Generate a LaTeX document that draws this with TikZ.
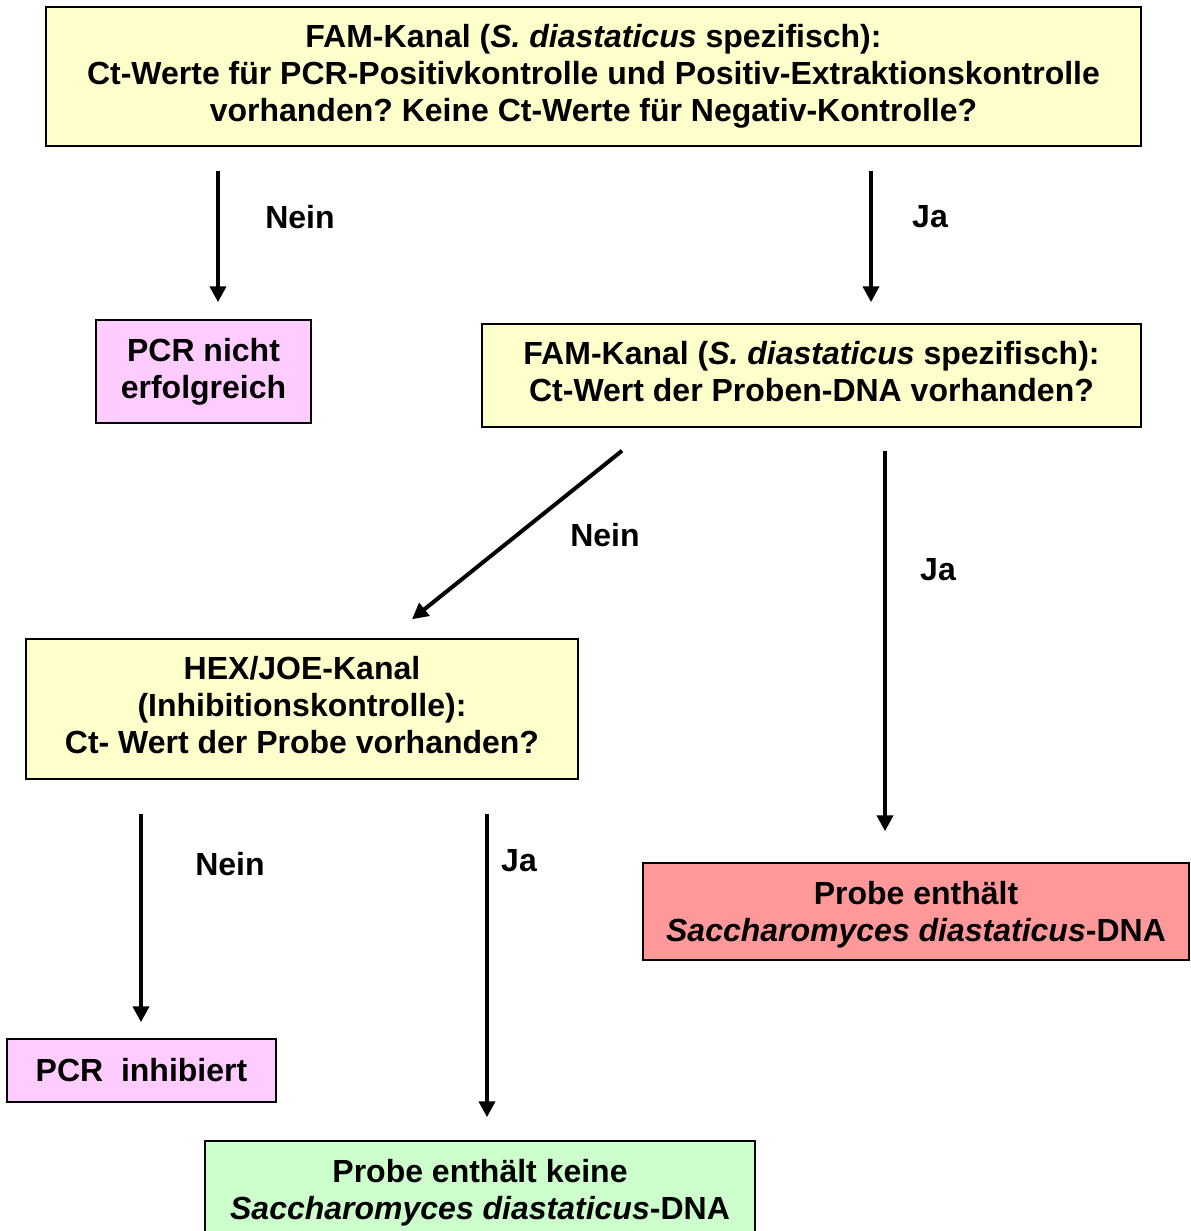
\documentclass[tikz,border=0pt]{standalone}
\usepackage{fontspec}
\setmainfont{Liberation Sans}
\usepackage{xcolor}
\usetikzlibrary{arrows.meta,calc}
\frenchspacing

\definecolor{boxyellow}{HTML}{FFFFCC}
\definecolor{boxpink}{HTML}{FFCCFF}
\definecolor{boxred}{HTML}{FF9999}
\definecolor{boxgreen}{HTML}{CCFFCC}

\begin{document}
\begin{tikzpicture}[x=0.5pt,y=-0.5pt,
	box/.style={draw,line width=0.75pt,align=center,inner sep=0pt,
		font=\fontsize{16}{18.4}\selectfont\bfseries},
	lbl/.style={font=\fontsize{16}{18}\selectfont\bfseries},
	arr/.style={line width=2pt,-{Triangle[length=8pt,width=8pt]}}]
	\useasboundingbox (0,0) rectangle (1190,1231);

	\node[box,fill=boxyellow,minimum width=547.5pt,minimum height=69.5pt] (top) at (593.5,76.5)
		{FAM-Kanal (\textit{S. diastaticus} spezifisch):\\
		 Ct-Werte für PCR-Positivkontrolle und Positiv-Extraktionskontrolle\\
		 vorhanden? Keine Ct-Werte für Negativ-Kontrolle?};
	\node[box,fill=boxpink,minimum width=107.5pt,minimum height=51.5pt] (pcrfail) at (203.5,371.5)
		{PCR nicht\\ erfolgreich};
	\node[box,fill=boxyellow,minimum width=329.5pt,minimum height=51.5pt,text depth=4pt] (probe) at (811.5,375.5)
		{FAM-Kanal (\textit{S. diastaticus} spezifisch):\\
		 Ct-Wert der Proben-DNA vorhanden?};
	\node[box,fill=boxyellow,minimum width=276pt,minimum height=70pt,text depth=4pt] (hex) at (302,709)
		{HEX/JOE-Kanal\\ (Inhibitionskontrolle):\\ Ct- Wert der Probe vorhanden?};
	\node[box,fill=boxred,minimum width=273pt,minimum height=48.5pt,text depth=0pt] (pos) at (916,911.5)
		{Probe enthält\\ \textit{Saccharomyces diastaticus}-DNA};
	\node[box,fill=boxpink,minimum width=134.5pt,minimum height=31.5pt] (pcrinh) at (141.5,1070.5)
		{PCR\ \ inhibiert};
	\node[box,fill=boxgreen,minimum width=275pt,minimum height=48.5pt,text depth=0pt] (neg) at (480,1189.5)
		{Probe enthält keine\\ \textit{Saccharomyces diastaticus}-DNA};

%	====================================================================
	\draw[arr] ([xshift=-187.75pt,yshift=-12pt]top.south)
		-- ([xshift=7.25pt,yshift=8.5pt]pcrfail.north);
	\draw[arr] ([xshift=138.75pt,yshift=-12pt]top.south)
		-- ([xshift=29.75pt,yshift=10.5pt]probe.north);
	\draw[arr] ([xshift=-94.75pt,yshift=-11.5pt]probe.south)
		-- ([xshift=55pt,yshift=9.5pt]hex.north);
	\draw[arr] ([xshift=36.75pt,yshift=-11.5pt]probe.south)
		-- ([xshift=-15.5pt,yshift=15.5pt]pos.north);
	\draw[arr] ([xshift=-80.5pt,yshift=-17pt]hex.south)
		-- ([xshift=-0.25pt,yshift=8pt]pcrinh.north);
	\draw[arr] ([xshift=92.5pt,yshift=-17pt]hex.south)
		-- ([xshift=3.5pt,yshift=11.5pt]neg.north);
%	====================================================================

	\node[lbl] (nein1) at (300,217) {Nein};
	\node[lbl] (ja1) at (930,217) {Ja};
	\node[lbl] (nein2) at (605,535) {Nein};
	\node[lbl] (ja2) at (938,570) {Ja};
	\node[lbl] (nein3) at (230,864) {Nein};
	\node[lbl] (ja3) at (519,861) {Ja};
\end{tikzpicture}
\end{document}
